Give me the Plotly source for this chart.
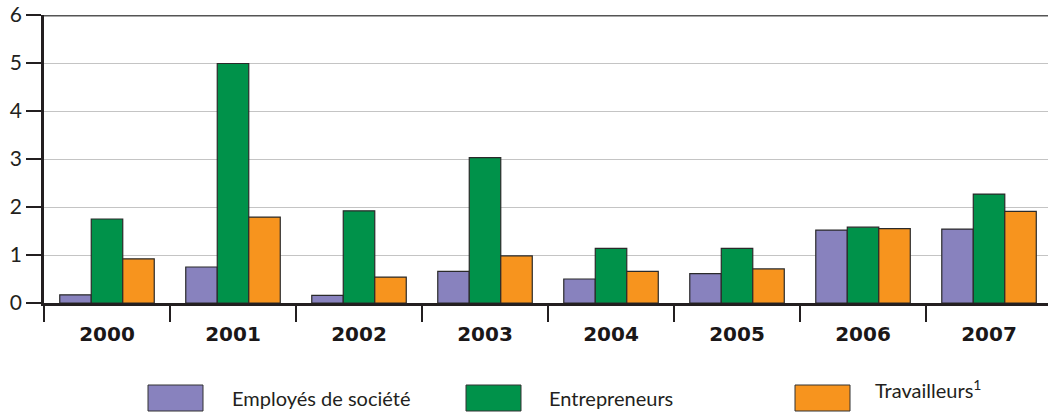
import plotly.graph_objects as go

years = ["2000", "2001", "2002", "2003", "2004", "2005", "2006", "2007"]
employes = [0.17, 0.75, 0.16, 0.66, 0.50, 0.61, 1.52, 1.54]
entrepreneurs = [1.75, 4.99, 1.92, 3.03, 1.14, 1.14, 1.58, 2.27]
travailleurs = [0.92, 1.79, 0.54, 0.98, 0.66, 0.71, 1.55, 1.91]
series_names = ["Employés de société", "Entrepreneurs", "Travailleurs<sup>1</sup>"]
colors = ["#8882be", "#00924a", "#f7941e"]
y_ticks = [0, 1, 2, 3, 4, 5, 6]

FONT = "Lato"
fig = go.Figure()
for vals, name, col in zip([employes, entrepreneurs, travailleurs], series_names, colors):
    fig.add_trace(go.Bar(x=years, y=vals, name=name, marker=dict(color=col, line=dict(color="#2a2a2a", width=1.2)),
                         showlegend=False))

fig.update_layout(
    width=1048, height=413,
    margin=dict(l=44, r=0, t=15, b=110),
    plot_bgcolor="white", paper_bgcolor="white",
    barmode="group", bargap=0.25, bargroupgap=0,
    font=dict(family=FONT, color="#231f20"),
)
fig.update_xaxes(type="category", range=[-0.5, 7.468], showline=True, linecolor="#231f20", linewidth=3,
                 ticks="outside", tickson="boundaries", ticklen=16, tickwidth=1.5, tickcolor="#231f20",
                 ticklabelstandoff=11,
                 tickfont=dict(size=20, family="DejaVu Sans", color="#1a1718"), showgrid=False,
                 tickvals=years, ticktext=["<b>%s</b>" % y for y in years])
fig.update_yaxes(range=[0, 6], tickvals=y_ticks, showline=True, linecolor="#231f20", linewidth=2.5,
                 ticks="outside", ticklen=15, tickwidth=1.5, tickcolor="#231f20",
                 tickfont=dict(size=21, family=FONT, color="#231f20"),
                 showgrid=True, gridcolor="#c4c4c4", gridwidth=1.2, zeroline=False)

# top frame line
fig.add_shape(type="line", xref="paper", yref="y", x0=0, x1=1, y0=6, y1=6, line=dict(color="#555", width=3))

# custom legend
legend_x = [148, 466, 795]
text_x = [230, 547, 873]
text_y = [398, 398, 389]
for i in range(3):
    fig.add_shape(type="rect", xref="paper", yref="paper",
                  x0=(legend_x[i] - 44) / 1004, x1=(legend_x[i] + 55 - 44) / 1004,
                  y0=(303 - 411) / 288, y1=(303 - 385) / 288,
                  fillcolor=colors[i], line=dict(color="#333", width=1))
    fig.add_annotation(xref="paper", yref="paper", x=(text_x[i] - 44) / 1004, y=(303 - text_y[i]) / 288,
                       text=series_names[i], showarrow=False, xanchor="left", yanchor="middle",
                       font=dict(size=20, family=FONT, color="#231f20"))

fig.write_html("out.html", config={"displayModeBar": False},
               post_script="document.body.style.margin='0';document.body.style.overflow='hidden';")
